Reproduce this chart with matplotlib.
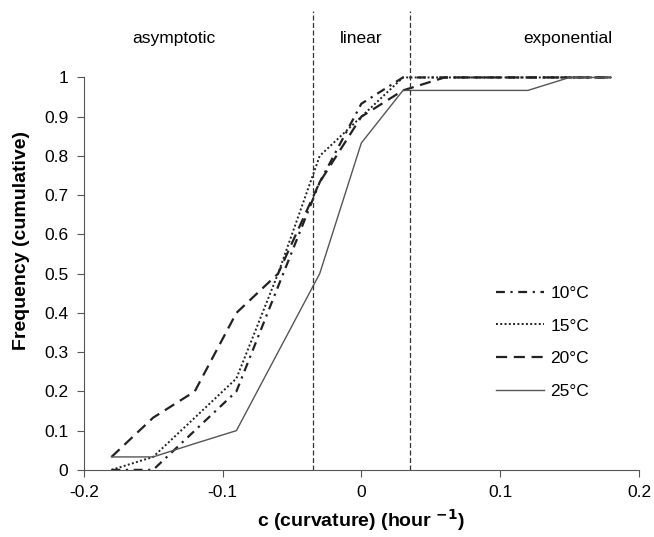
import numpy as np
import matplotlib
matplotlib.use('Agg')
import matplotlib.pyplot as plt

plt.rcParams['font.family'] = ['Liberation Sans', 'DejaVu Sans']
plt.rcParams['mathtext.default'] = 'bf'

# curvature grid and cumulative frequencies for each temperature
c = [-0.18, -0.15, -0.12, -0.09, -0.06, -0.03, 0.0, 0.03, 0.06, 0.09, 0.12, 0.15, 0.18]
f10 = [0.0, 0.0, 0.1, 0.2, 0.467, 0.733, 0.933, 1.0, 1.0, 1.0, 1.0, 1.0, 1.0]
f15 = [0.0, 0.033, 0.133, 0.233, 0.5, 0.8, 0.9, 1.0, 1.0, 1.0, 1.0, 1.0, 1.0]
f20 = [0.033, 0.133, 0.2, 0.4, 0.5, 0.733, 0.9, 0.967, 1.0, 1.0, 1.0, 1.0, 1.0]
f25 = [0.033, 0.033, 0.067, 0.1, 0.3, 0.5, 0.833, 0.967, 0.967, 0.967, 0.967, 1.0, 1.0]
labels = ['10°C', '15°C', '20°C', '25°C']

bounds = [-0.035, 0.035]
regions = ['asymptotic', 'linear', 'exponential']
region_x = [-0.135, 0.0, 0.149]

fig = plt.figure(figsize=(6.54, 5.37), dpi=100)
ax = fig.add_axes([0.128, 0.125, 0.849, 0.855])

col = '#222222'
ax.plot(c, f10, color=col, lw=1.6, dashes=(4, 2.5, 1, 2.5), label=labels[0])
ax.plot(c, f15, color=col, lw=1.4, dashes=(1, 1.2), label=labels[1])
ax.plot(c, f20, color=col, lw=1.6, dashes=(5, 3), label=labels[2])
ax.plot(c, f25, color='#555555', lw=1.0, label=labels[3])

for b in bounds:
    ax.axvline(b, ymin=0, ymax=1, color='#333333', lw=0.9, dashes=(4, 2))

for name, x in zip(regions, region_x):
    ax.text(x, 1.1, name, ha='center', va='center', fontsize=12.5)

ax.set_xlim(-0.2, 0.2)
ax.set_ylim(0, 1.17)
ax.set_xticks(np.arange(-0.2, 0.21, 0.1))
ax.set_xticklabels(['-0.2', '-0.1', '0', '0.1', '0.2'])
ax.set_yticks(np.arange(0, 1.01, 0.1))
ax.set_yticklabels(['0', '0.1', '0.2', '0.3', '0.4', '0.5', '0.6', '0.7', '0.8', '0.9', '1'])
ax.tick_params(labelsize=12.5, length=5, color='#555555', pad=6)
ax.spines['top'].set_visible(False)
ax.spines['right'].set_visible(False)
ax.spines['left'].set_bounds(0, 1)
for s in ['left', 'bottom']:
    ax.spines[s].set_color('#555555')

ax.set_xlabel('c (curvature) (hour $^{-1}$)', fontsize=14, fontweight='bold', labelpad=5)
ax.set_ylabel('Frequency (cumulative)', fontsize=14, fontweight='bold', labelpad=10)

ax.legend(loc='center left', bbox_to_anchor=(0.714, 0.278), frameon=False, fontsize=12.5,
          handlelength=2.75, labelspacing=1.0, handletextpad=0.4)

fig.savefig('out.png', dpi=100)
